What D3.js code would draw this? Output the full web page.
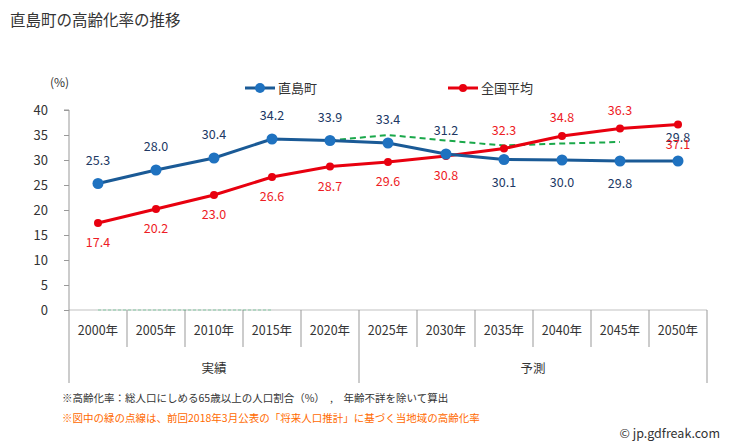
<!DOCTYPE html>
<html><head><meta charset="utf-8">
<script src="https://cdn.jsdelivr.net/npm/d3@7/dist/d3.min.js"></script>
<style>body{margin:0;background:#fff;} text{font-family:"Noto Sans CJK JP","Noto Sans",sans-serif;}</style>
</head><body><svg id="c" width="729" height="446"></svg>
<script>
const years = ["2000年","2005年","2010年","2015年","2020年","2025年","2030年","2035年","2040年","2045年","2050年"];
const naoshima = [25.3,28.0,30.4,34.2,33.9,33.4,31.2,30.1,30.0,29.8,29.8];
const national = [17.4,20.2,23.0,26.6,28.7,29.6,30.8,32.3,34.8,36.3,37.1];
const prevProj = [0,0,0,0,33.9,35.0,33.9,32.9,33.3,33.6,null];
const yTicks = [0,5,10,15,20,25,30,35,40];
const groups = [{name:"実績",from:0,to:4},{name:"予測",from:5,to:10}];
const naoshimaLabelPos = ["a","a","a","a","a","a","a","b","b","b","a"];
const nationalLabelPos = ["b","b","b","b","b","b","b","a","a","a","b"];

const svg = d3.select("#c");
const L=69, R=707, T=110, B=310;
const x = d3.scaleBand().domain(years).range([L,R]);
const cx = (i)=> x(years[i]) + x.bandwidth()/2;
const y = d3.scaleLinear().domain([0,40]).range([B,T]);

svg.append("text").attr("x",10).attr("y",26).attr("font-size",15.5).attr("fill","#333").text("直島町の高齢化率の推移");

// y axis
const ya = svg.append("g").attr("transform",`translate(${L},0)`).call(d3.axisLeft(y).tickValues(yTicks).tickSize(5).tickPadding(16));
ya.select(".domain").attr("stroke","#999").attr("d",`M-5,${T}H0V${B}`);
ya.selectAll(".tick line").attr("stroke","#999");
ya.selectAll(".tick text").attr("font-size",13).attr("fill","#333").attr("font-family","Noto Sans, sans-serif");
svg.append("text").attr("x",50).attr("y",87).attr("font-size",12).attr("fill","#333").text("(%)");

// x axis
const g = svg.append("g");
years.forEach((yr,i)=>{
  g.append("text").attr("x",cx(i)).attr("y",335).attr("text-anchor","middle").attr("font-size",12.5).attr("fill","#333").text(yr);
});
for(let i=0;i<=years.length;i++){
  const xe = i<years.length? x(years[i]) : R;
  const isGroupEdge = i===0 || i===years.length || i===5;
  g.append("line").attr("x1",xe).attr("x2",xe).attr("y1",B).attr("y2",isGroupEdge?383:347).attr("stroke","#999");
}
groups.forEach(gr=>{
  const m = (x(years[gr.from]) + x(years[gr.to]) + x.bandwidth())/2;
  g.append("text").attr("x",m).attr("y",373).attr("text-anchor","middle").attr("font-size",12.5).attr("fill","#333").text(gr.name);
});

// green dashed previous projection
const lineGen = d3.line().defined(d=>d.v!==null).x(d=>cx(d.i)).y(d=>y(d.v));
const pp = prevProj.map((v,i)=>({v,i}));
svg.append("path").attr("d",lineGen(pp.filter(d=>d.i<=3))).attr("fill","none").attr("stroke","#00b050").attr("stroke-width",1).attr("stroke-dasharray","3,2").attr("opacity",0.4);
g.append("line").attr("x1",L).attr("x2",R).attr("y1",B).attr("y2",B).attr("stroke","#999").attr("opacity",0.6);
svg.append("path").attr("d",lineGen(pp.filter(d=>d.i>=4))).attr("fill","none").attr("stroke","#1aa84a").attr("stroke-width",2).attr("stroke-dasharray","6,4");

// national (red)
const nat = national.map((v,i)=>({v,i}));
svg.append("path").attr("d",lineGen(nat)).attr("fill","none").attr("stroke","#e8000f").attr("stroke-width",3);
svg.selectAll(".rp").data(nat).enter().append("circle").attr("cx",d=>cx(d.i)).attr("cy",d=>y(d.v)).attr("r",4).attr("fill","#e8000f");

// naoshima (blue)
const nao = naoshima.map((v,i)=>({v,i}));
svg.append("path").attr("d",lineGen(nao)).attr("fill","none").attr("stroke","#1a5a96").attr("stroke-width",3);
svg.selectAll(".bp").data(nao).enter().append("circle").attr("cx",d=>cx(d.i)).attr("cy",d=>y(d.v)).attr("r",5.5).attr("fill","#1f72c0");

// labels
nao.forEach(d=>{
  const dy = naoshimaLabelPos[d.i]==="a" ? -19 : 27;
  svg.append("text").attr("x",cx(d.i)).attr("y",y(d.v)+dy).attr("text-anchor","middle").attr("font-size",12.5).attr("fill","#203864").attr("font-family","Noto Sans, sans-serif").text(d.v.toFixed(1));
});
nat.forEach(d=>{
  const dy = nationalLabelPos[d.i]==="a" ? -14 : 24;
  svg.append("text").attr("x",cx(d.i)).attr("y",y(d.v)+dy).attr("text-anchor","middle").attr("font-size",12.5).attr("fill","#ee1c25").attr("font-family","Noto Sans, sans-serif").text(d.v.toFixed(1));
});

// legend
const lg = [{name:"直島町",c:"#1a5a96",m:"#1f72c0",x:245,r:5},{name:"全国平均",c:"#e8000f",m:"#e8000f",x:448,r:4}];
lg.forEach(l=>{
  svg.append("line").attr("x1",l.x).attr("x2",l.x+30).attr("y1",88).attr("y2",88).attr("stroke",l.c).attr("stroke-width",3);
  svg.append("circle").attr("cx",l.x+15).attr("cy",88).attr("r",l.r).attr("fill",l.m);
  svg.append("text").attr("x",l.x+33).attr("y",93).attr("font-size",13).attr("fill","#333").text(l.name);
});

// footnotes
svg.append("text").attr("x",62).attr("y",402).attr("font-size",10.5).attr("fill","#333").text("※高齢化率：総人口にしめる65歳以上の人口割合（%）　,　年齢不詳を除いて算出");
svg.append("text").attr("x",62).attr("y",422).attr("font-size",10.5).attr("fill","#ff6a00").text("※図中の緑の点線は、前回2018年3月公表の「将来人口推計」に基づく当地域の高齢化率");
svg.append("text").attr("x",720).attr("y",438).attr("text-anchor","end").attr("font-size",12.5).attr("fill","#333").text("© jp.gdfreak.com");
</script></body></html>
